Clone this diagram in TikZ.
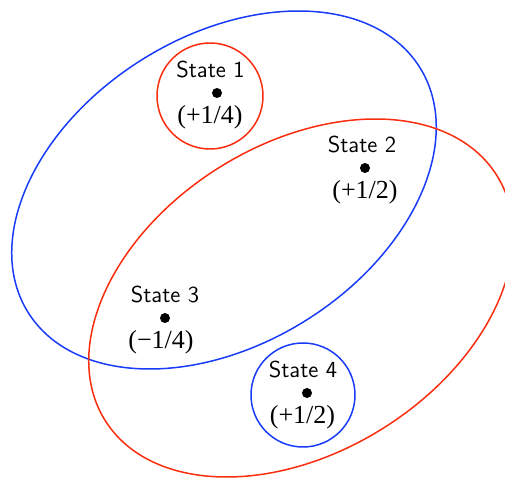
\documentclass[tikz,border=0pt]{standalone}
\usepackage{fontspec}
\newfontfamily\numfont{Liberation Serif}
\usetikzlibrary{positioning}

\definecolor{ringblue}{RGB}{25,60,250}
\definecolor{ringred}{RGB}{250,45,15}

\tikzset{
	statedot/.style={circle, fill=black, inner sep=0pt, minimum size=5pt},
	statename/.style={font=\sffamily\fontsize{11.5}{13}\selectfont, inner sep=0pt},
	stateval/.style={font=\numfont\fontsize{13}{15}\selectfont, inner sep=0pt},
	ring/.style={line width=0.75pt}
}

\begin{document}
\begin{tikzpicture}[x=0.5pt, y=0.5pt, line join=round, line cap=round]
	% Khung hình
	\clip (0, 0) rectangle (505, 478);

	% Các hình elip lớn
	\draw[ring, ringblue] (224, 288) ellipse[x radius=231, y radius=154, rotate=32];
	\draw[ring, ringred] (301, 180) ellipse[x radius=231, y radius=154, rotate=32];

	% Các vòng tròn nhỏ
	\draw[ring, ringred] (210, 382) circle (53);
	\draw[ring, ringblue] (303, 83) circle (52);

	% Các trạng thái
	\node[statedot] (s1) at (217, 385) {};
	\node[statedot] (s2) at (365, 310) {};
	\node[statedot] (s3) at (165, 160) {};
	\node[statedot] (s4) at (307, 85) {};

	\node[statename, above=4.5pt of s1, xshift=-3.25pt] (n1) {State 1};
	\node[statename, above=4.5pt of s2, xshift=-1.5pt] (n2) {State 2};
	\node[statename, above=4.5pt of s3] (n3) {State 3};
	\node[statename, above=4.5pt of s4, xshift=-2pt] (n4) {State 4};

	\node[stateval, below=3.5pt of s1, xshift=-3.5pt] (v1) {(+1/4)};
	\node[stateval, below=3.5pt of s2] (v2) {(+1/2)};
	\node[stateval, below=3.5pt of s3, xshift=-2pt] (v3) {(−1/4)};
	\node[stateval, below=3.5pt of s4, xshift=-2.25pt] (v4) {(+1/2)};
\end{tikzpicture}
\end{document}
